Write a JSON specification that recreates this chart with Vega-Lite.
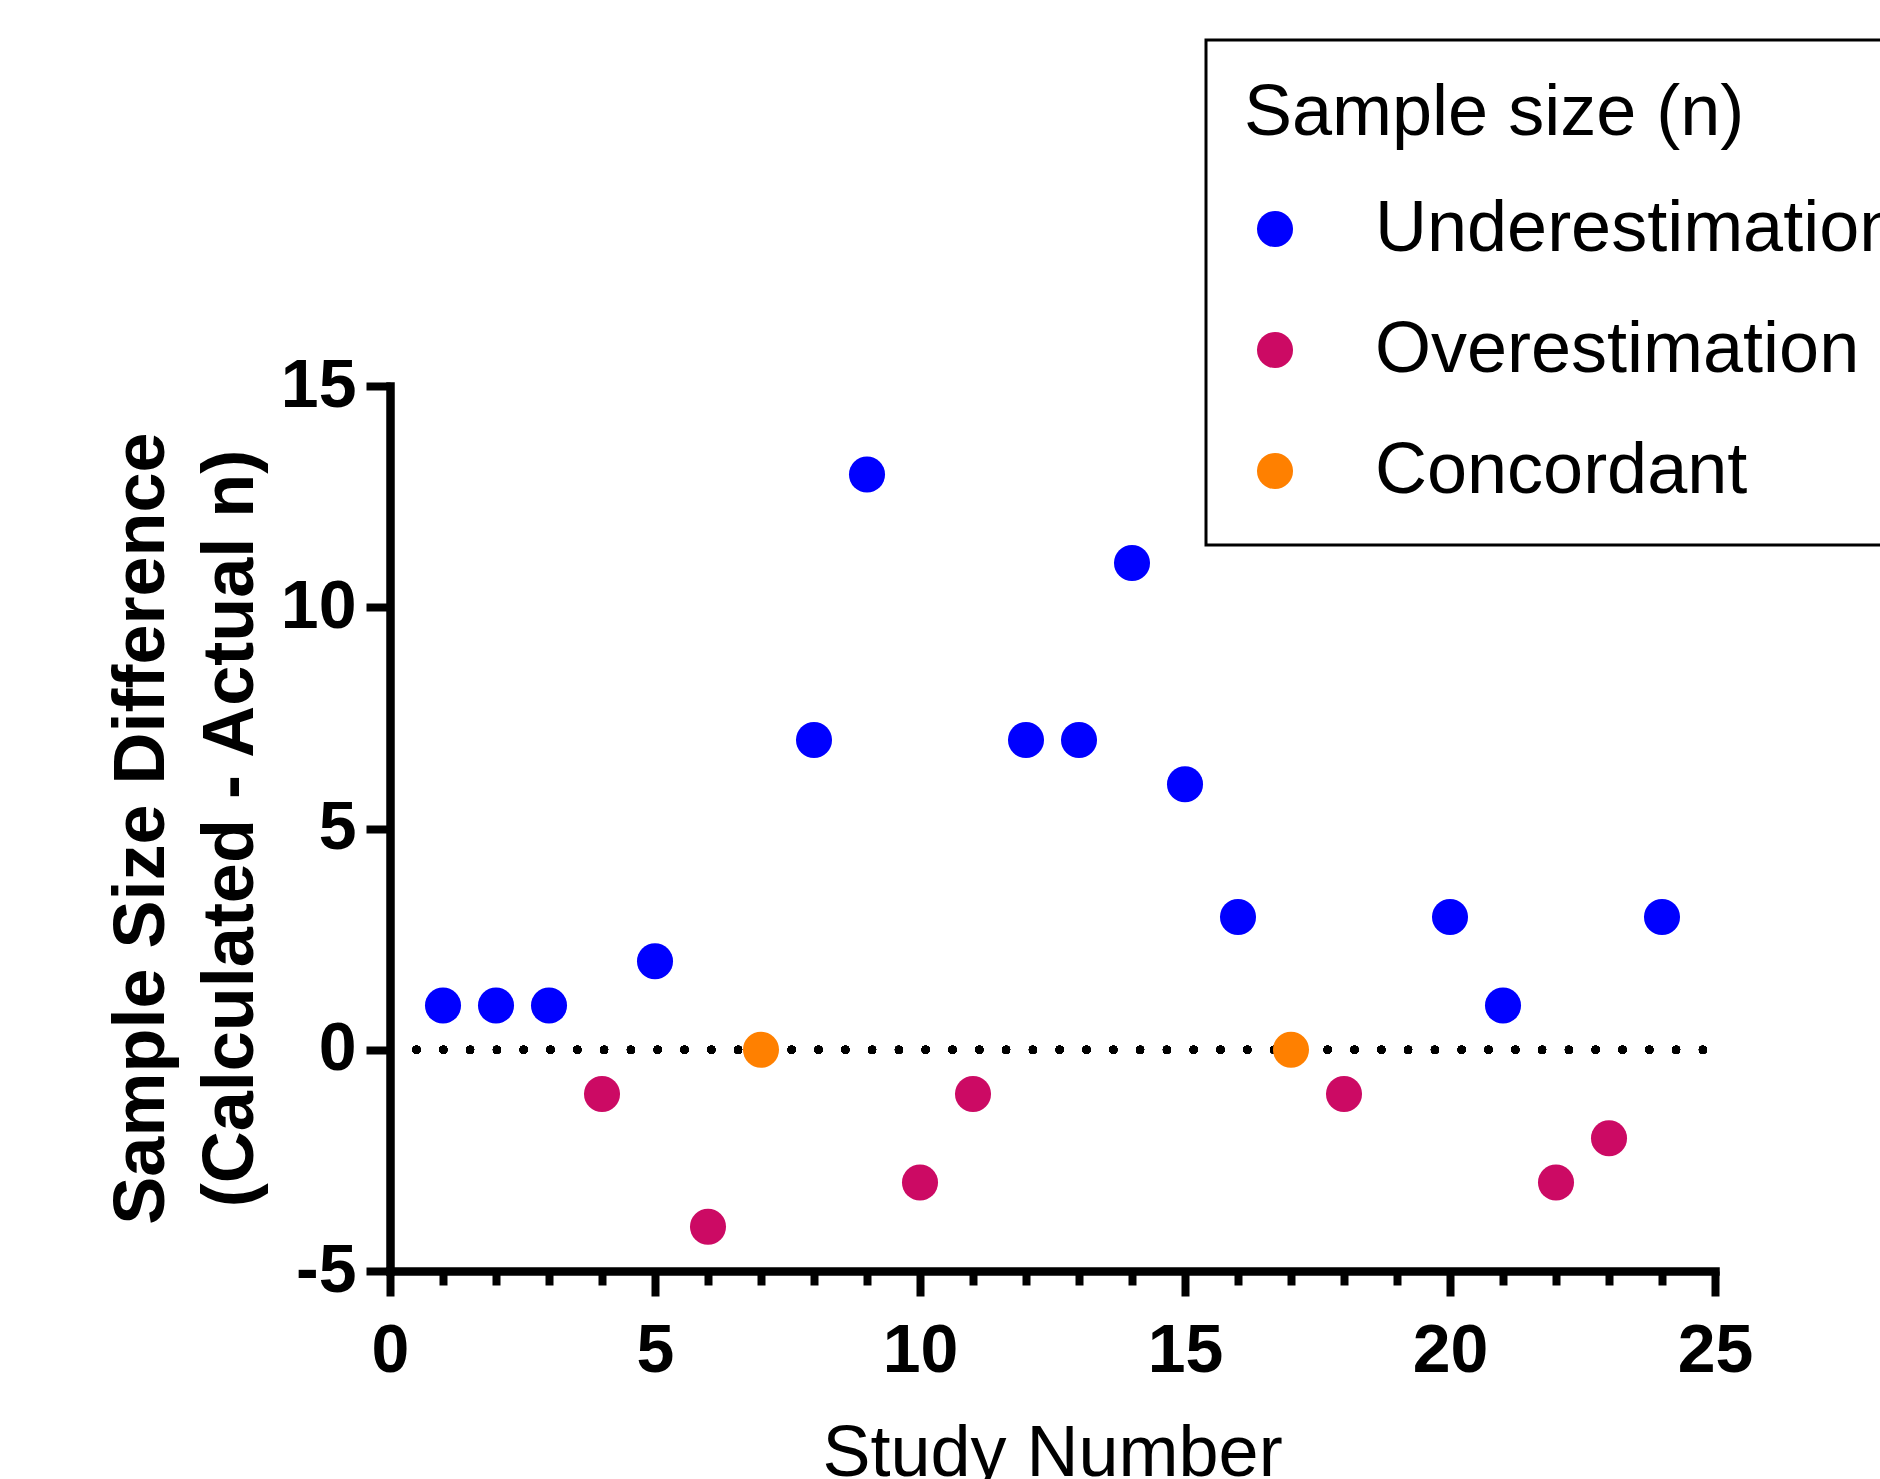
{
  "$schema": "https://vega.github.io/schema/vega-lite/v6.json",
  "width": 1325,
  "height": 885,
  "autosize": "none",
  "padding": {"left": 390, "top": 386, "right": 165, "bottom": 208},
  "background": "white",
  "config": {
    "view": {"stroke": null},
    "font": "Liberation Sans",
    "legend": {
      "orient": "none",
      "legendX": 816,
      "legendY": -346,
      "titleFontSize": 72,
      "titleFontWeight": "normal",
      "titleColor": "black",
      "titleFont": "Liberation Sans",
      "labelFont": "Liberation Sans",
      "labelFontSize": 72,
      "labelColor": "black",
      "symbolSize": 1300,
      "symbolType": "circle",
      "symbolStrokeWidth": 0,
      "symbolOffset": -5,
      "strokeColor": "black",
      "strokeWidth": 3,
      "fillColor": "white",
      "padding": 38,
      "rowPadding": 49,
      "titlePadding": 43,
      "labelOffset": 64,
      "labelLimit": 2000,
      "titleLimit": 2000
    }
  },
  "data": {
    "values": [
      {"study": 1, "diff": 1, "group": "Underestimation"},
      {"study": 2, "diff": 1, "group": "Underestimation"},
      {"study": 3, "diff": 1, "group": "Underestimation"},
      {"study": 4, "diff": -1, "group": "Overestimation"},
      {"study": 5, "diff": 2, "group": "Underestimation"},
      {"study": 6, "diff": -4, "group": "Overestimation"},
      {"study": 7, "diff": 0, "group": "Concordant"},
      {"study": 8, "diff": 7, "group": "Underestimation"},
      {"study": 9, "diff": 13, "group": "Underestimation"},
      {"study": 10, "diff": -3, "group": "Overestimation"},
      {"study": 11, "diff": -1, "group": "Overestimation"},
      {"study": 12, "diff": 7, "group": "Underestimation"},
      {"study": 13, "diff": 7, "group": "Underestimation"},
      {"study": 14, "diff": 11, "group": "Underestimation"},
      {"study": 15, "diff": 6, "group": "Underestimation"},
      {"study": 16, "diff": 3, "group": "Underestimation"},
      {"study": 17, "diff": 0, "group": "Concordant"},
      {"study": 18, "diff": -1, "group": "Overestimation"},
      {"study": 20, "diff": 3, "group": "Underestimation"},
      {"study": 21, "diff": 1, "group": "Underestimation"},
      {"study": 22, "diff": -3, "group": "Overestimation"},
      {"study": 23, "diff": -2, "group": "Overestimation"},
      {"study": 24, "diff": 3, "group": "Underestimation"}
    ]
  },
  "layer": [
    {
      "mark": {"type": "rule", "strokeDash": [0, 26.8], "strokeCap": "round", "strokeWidth": 8, "color": "black"},
      "encoding": {
        "x": {"datum": 0.5, "type": "quantitative"},
        "x2": {"datum": 25},
        "y": {"datum": 0, "type": "quantitative"}
      }
    },
    {
      "mark": {"type": "circle", "size": 1300, "opacity": 1},
      "encoding": {
        "x": {
          "field": "study",
          "type": "quantitative",
          "scale": {"domain": [0, 25], "nice": false, "zero": false},
          "axis": {
            "title": "Study Number",
            "titleFontSize": 72,
            "titleFontWeight": "normal",
            "titleColor": "black",
            "titleX": 662,
            "titleY": 204,
            "titleBaseline": "alphabetic",
            "values": [0,1,2,3,4,5,6,7,8,9,10,11,12,13,14,15,16,17,18,19,20,21,22,23,24,25],
            "labelExpr": "datum.value % 5 === 0 ? datum.label : ''",
            "labelFontSize": 68,
            "labelFontWeight": "bold",
            "labelColor": "black",
            "labelPadding": 21,
            "labelFlush": false,
            "labelOverlap": false,
            "domainColor": "black",
            "domainWidth": 8.5,
            "domainCap": "square",
            "tickColor": "black",
            "tickWidth": 8,
            "tickSize": {"condition": {"test": "datum.value % 5 === 0", "value": 25}, "value": 14},
            "grid": false
          }
        },
        "y": {
          "field": "diff",
          "type": "quantitative",
          "scale": {"domain": [-5, 15], "nice": false, "zero": false},
          "axis": {
            "title": ["Sample Size Difference", "(Calculated - Actual n)"],
            "titleFontSize": 72,
            "titleFontWeight": "bold",
            "titleColor": "black",
            "titleLineHeight": 89,
            "titleX": -227,
            "titleY": 442,
            "titleAngle": -90,
            "titleAlign": "center",
            "titleBaseline": "alphabetic",
            "values": [-5, 0, 5, 10, 15],
            "labelExpr": "datum.value < 0 ? '-' + abs(datum.value) : datum.label",
            "labelFontSize": 68,
            "labelFontWeight": "bold",
            "labelColor": "black",
            "labelPadding": 10,
            "labelFlush": false,
            "labelOverlap": false,
            "domainColor": "black",
            "domainWidth": 8.5,
            "domainCap": "square",
            "tickColor": "black",
            "tickWidth": 8,
            "tickSize": 24,
            "grid": false
          }
        },
        "color": {
          "field": "group",
          "type": "nominal",
          "scale": {"domain": ["Underestimation", "Overestimation", "Concordant"], "range": ["#0000FF", "#CC0A64", "#FF8000"]},
          "legend": {"title": "Sample size (n)"}
        }
      }
    }
  ]
}
